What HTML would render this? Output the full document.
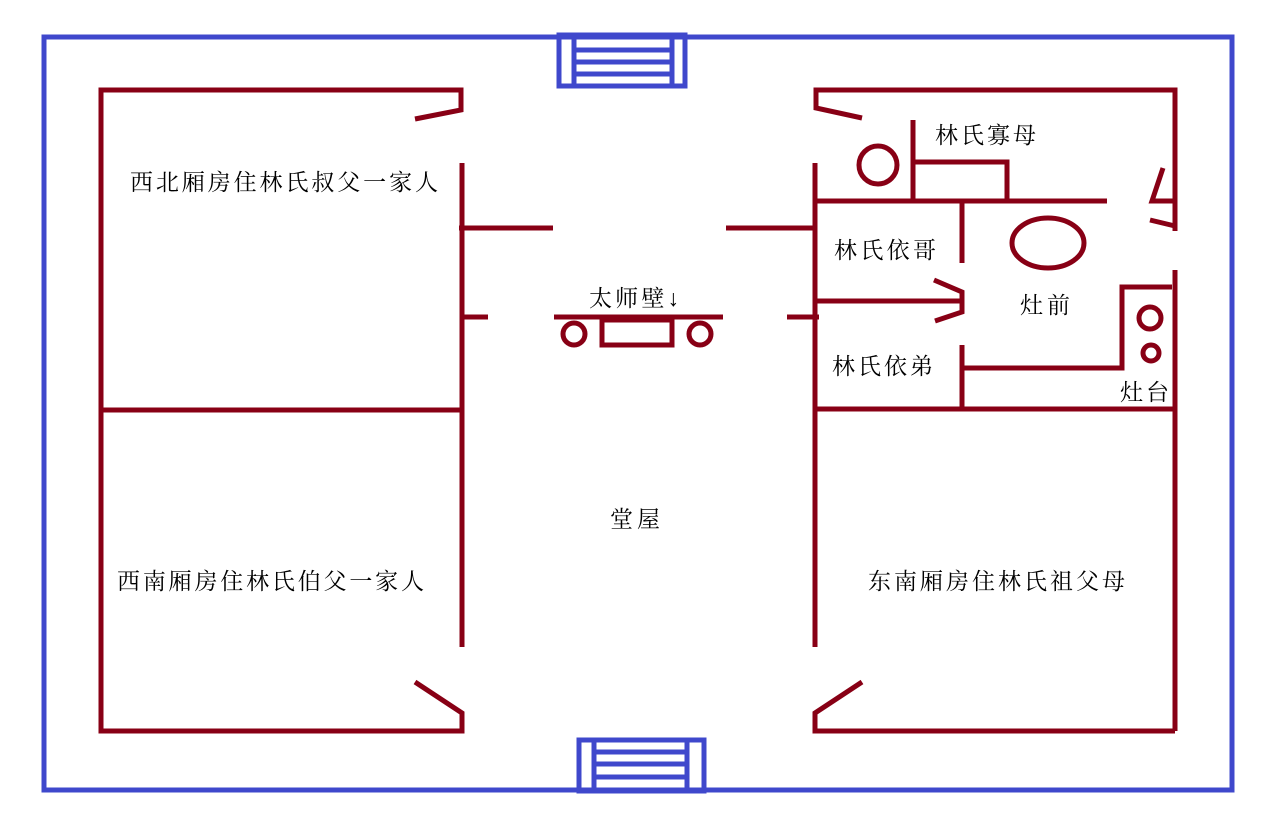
<!DOCTYPE html>
<html><head><meta charset="utf-8"><style>
html,body{margin:0;padding:0;background:#fff;}
svg{display:block}
text{font-family:"Liberation Serif","Noto Serif CJK SC","Noto Sans CJK SC",serif;font-size:23px;fill:#000}
</style></head><body>
<svg width="1280" height="824" viewBox="0 0 1280 824" xmlns="http://www.w3.org/2000/svg">
<g fill="none" stroke="#3f48cc" stroke-width="5">
<rect x="44" y="37" width="1188" height="753"/>
<rect x="559" y="35" width="126" height="51"/>
<line x1="574" y1="35" x2="574" y2="86"/>
<line x1="672" y1="37" x2="672" y2="86"/>
<line x1="574" y1="50" x2="672" y2="50"/>
<line x1="574" y1="62" x2="672" y2="62"/>
<line x1="574" y1="74" x2="672" y2="74"/>
<rect x="579" y="740" width="125" height="51"/>
<line x1="594" y1="740" x2="594" y2="792"/>
<line x1="687" y1="740" x2="687" y2="790"/>
<line x1="594" y1="752" x2="687" y2="752"/>
<line x1="594" y1="764" x2="687" y2="764"/>
<line x1="594" y1="777" x2="687" y2="777"/>
</g>
<g fill="none" stroke="#880015" stroke-width="5">
<polyline points="415,119 461,110 461,90 101,90 101,731 462,731 462,713 415,682"/>
<line x1="101" y1="410" x2="462" y2="410"/>
<line x1="462" y1="163" x2="462" y2="647"/>
<line x1="459" y1="228" x2="553" y2="228"/>
<line x1="462" y1="317" x2="488" y2="317"/>
<line x1="554" y1="317" x2="723" y2="317"/>
<circle cx="574" cy="334" r="11"/>
<circle cx="700" cy="334" r="11"/>
<rect x="602" y="320" width="70" height="25"/>
<line x1="726" y1="228" x2="815" y2="228"/>
<line x1="787" y1="317" x2="819" y2="317"/>
<polyline points="862,118 816,108 816,90 1175,90 1175,231"/>
<line x1="1175" y1="270" x2="1175" y2="731"/>
<polyline points="862,682 815,713 815,731 1175,731"/>
<line x1="815" y1="163" x2="815" y2="647"/>
<line x1="815" y1="201" x2="1107" y2="201"/>
<line x1="913" y1="120" x2="913" y2="201"/>
<polyline points="913,162 1007,162 1007,201"/>
<circle cx="878" cy="165" r="19"/>
<ellipse cx="1048" cy="243" rx="36" ry="25"/>
<line x1="962" y1="201" x2="962" y2="263"/>
<line x1="815" y1="301" x2="962" y2="301"/>
<polyline points="934,280 962,292 962,312 935,321"/>
<line x1="962" y1="345" x2="962" y2="410"/>
<polyline points="962,368 1122,368 1122,287 1172,287"/>
<circle cx="1150" cy="318" r="11"/>
<circle cx="1151" cy="353" r="8"/>
<line x1="815" y1="409" x2="1175" y2="409"/>
<polyline points="1163,168 1152,201 1175,201"/>
<line x1="1150" y1="220" x2="1175" y2="226"/>
</g>
<text x="130" y="190" textLength="308">西北厢房住林氏叔父一家人</text>
<text x="117" y="589" textLength="307">西南厢房住林氏伯父一家人</text>
<text x="610" y="527" textLength="50">堂屋</text>
<text x="868" y="589" textLength="257">东南厢房住林氏祖父母</text>
<text x="935" y="143" textLength="101">林氏寡母</text>
<text x="834" y="258" textLength="102">林氏依哥</text>
<text x="1020" y="313" textLength="50">灶前</text>
<text x="832" y="374" textLength="101">林氏依弟</text>
<text x="1120" y="400" textLength="49">灶台</text>
<text x="589" y="306" textLength="90">太师壁↓</text>
</svg>
</body></html>
